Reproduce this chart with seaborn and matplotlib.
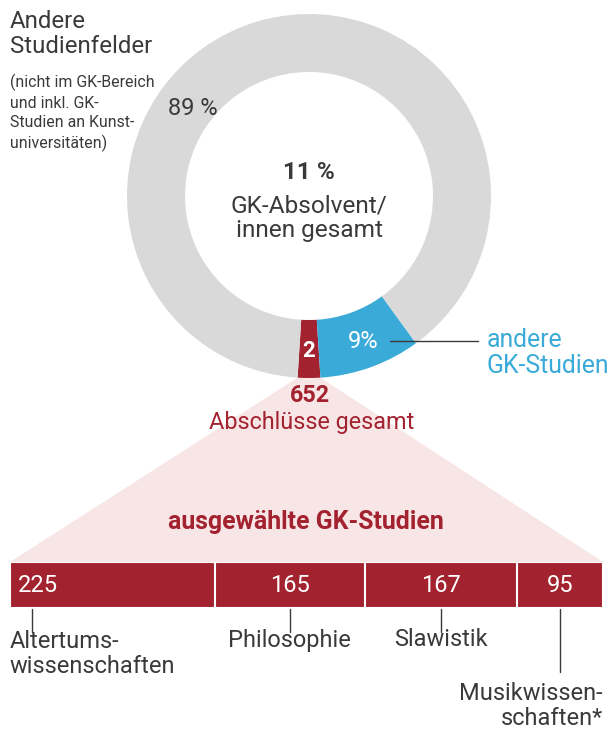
import numpy as np
import seaborn as sns
import matplotlib.pyplot as plt
from matplotlib.patches import Polygon

# Donut shares (percent): selected GK studies, other GK studies, other fields
share_labels = ["ausgewählte GK-Studien", "andere GK-Studien", "Andere Studienfelder"]
share_values = [2, 9, 89]

# Degrees of the selected GK studies
study_names = ["Altertums-\nwissenschaften", "Philosophie", "Slawistik", "Musikwissen-\nschaften*"]
study_counts = [225, 165, 167, 95]

RED = "#a3222f"
BLUE = "#3aabd8"
GREY = "#d9d9d9"
PINK = "#f8e6e6"
TEXT = "#3a3a3a"

sns.set_theme(style="white")
plt.rcParams["font.family"] = ["Roboto", "DejaVu Sans"]

W, H = 611, 729
fig = plt.figure(figsize=(W / 100, H / 100), dpi=100)

# stacked bar drawn as overlapping cumulative bars (own axes, below the annotation layer)
bar_left, bar_right, bar_top, bar_bottom = 10, 603, 562, 608
bax = fig.add_axes([bar_left / W, (H - bar_bottom) / H, (bar_right - bar_left) / W,
                    (bar_bottom - bar_top) / H])
cum = np.cumsum(study_counts)
for c in cum[::-1]:
    sns.barplot(x=[c], y=["GK"], orient="h", color=RED, saturation=1, width=1,
                edgecolor="white", linewidth=1.5, ax=bax)
total = sum(study_counts)
bax.set_xlim(0, total)
bax.set_ylim(0.5, -0.5)
bax.axis("off")
bax.set_zorder(1)

ax = fig.add_axes([0, 0, 1, 1])
ax.set_zorder(2)
ax.patch.set_alpha(0)


def Y(p):
    # pixel row from top -> data y
    return H - p


# donut
cx, cy, R, ring = 309, Y(196), 182, 58
start = 270 - share_values[0] * 3.6 / 2
ax.pie(share_values, colors=[RED, BLUE, GREY], startangle=start, counterclock=True,
       radius=R, center=(cx, cy), wedgeprops=dict(width=ring, linewidth=0), frame=False)

# pink fan from the red slice down to the bar (behind the bar axes)
a1, a2 = np.radians(start), np.radians(start + share_values[0] * 3.6)
fan = Polygon([(cx + R * np.cos(a1), cy + R * np.sin(a1)),
               (cx + R * np.cos(a2), cy + R * np.sin(a2)),
               (bar_right, Y(bar_top)), (bar_left, Y(bar_top))],
              closed=True, facecolor=PINK, edgecolor="none", zorder=0)
ax.add_patch(fan)

ax.set_xlim(0, W)
ax.set_ylim(0, H)
ax.set_aspect("auto")
ax.axis("off")

# donut texts
ax.text(10, Y(34), "Andere\nStudienfelder", fontsize=17.3, color=TEXT, ha="left", va="center",
        linespacing=1.15)
ax.text(10, Y(113), "(nicht im GK-Bereich\nund inkl. GK-\nStudien an Kunst-\nuniversitäten)",
        fontsize=11.4, color=TEXT, ha="left", va="center", linespacing=1.35)
ax.text(193, Y(108), f"{share_values[2]} %", fontsize=17, color=TEXT, ha="center", va="center")
ax.text(cx, Y(172), f"{share_values[0] + share_values[1]} %", fontsize=17.6, color=TEXT,
        fontweight="bold", ha="center", va="center")
ax.text(cx, Y(218), "GK-Absolvent/\ninnen gesamt", fontsize=17.6, color=TEXT, ha="center",
        va="center", linespacing=1.1)
ax.text(363, Y(341), f"{share_values[1]}%", fontsize=17, color="white", ha="center", va="center")
ax.text(cx, Y(351), f"{share_values[0]}", fontsize=16, color="white", fontweight="bold",
        ha="center", va="center")
ax.plot([390, 478], [Y(341), Y(341)], color=TEXT, lw=1)
ax.text(487, Y(353), "andere\nGK-Studien", fontsize=17.8, color=BLUE, ha="left", va="center",
        linespacing=1.1)

ax.text(310, Y(395), f"{total}", fontsize=16.8, color=RED, fontweight="bold", ha="center",
        va="center")
ax.text(312, Y(422), "Abschlüsse gesamt", fontsize=16.8, color=RED, ha="center", va="center")
ax.text(306, Y(522), "ausgewählte GK-Studien", fontsize=17.9, color=RED, fontweight="bold",
        ha="center", va="center")

scale = (bar_right - bar_left) / total
lefts = cum - np.array(study_counts)
fs = 17
for i, (name, n) in enumerate(zip(study_names, study_counts)):
    if i == 0:
        xpx = bar_left + 22
        ax.text(18, Y(585), f"{n}", fontsize=fs, color="white", ha="left", va="center")
        ax.text(bar_left, Y(654), name, fontsize=fs, color=TEXT, ha="left", va="center",
                linespacing=1.15)
        y_end = 632
    else:
        xpx = bar_left + (lefts[i] + n / 2) * scale
        ax.text(xpx, Y(585), f"{n}", fontsize=fs, color="white", ha="center", va="center")
        if i == len(study_counts) - 1:
            ax.text(bar_right, Y(706), name, fontsize=fs, color=TEXT, ha="right",
                    va="center", linespacing=1.15)
            y_end = 672
        else:
            ax.text(xpx, Y(640), name, fontsize=fs, color=TEXT, ha="center", va="center")
            y_end = 632
    ax.plot([xpx, xpx], [Y(bar_bottom + 1), Y(y_end)], color=TEXT, lw=1)

fig.savefig("out.png", dpi=100)
